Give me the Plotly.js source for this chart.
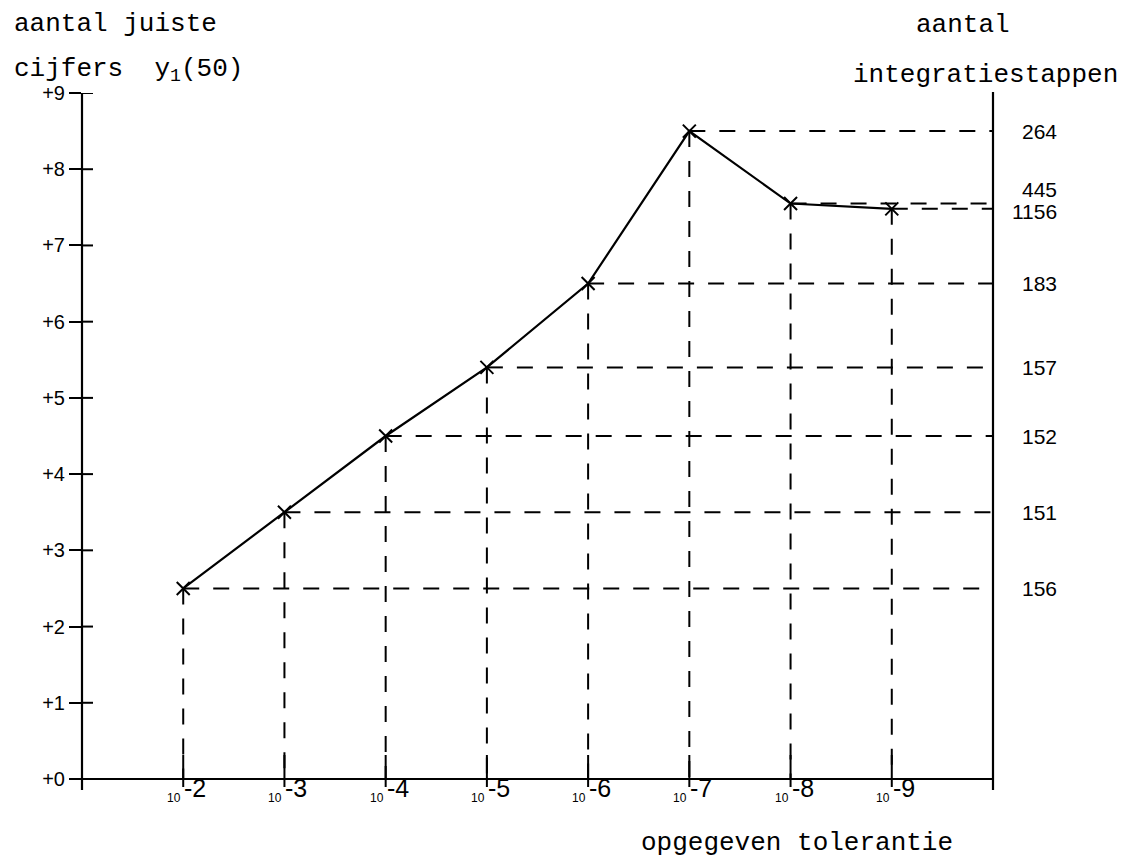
<!DOCTYPE html>
<html>
<head>
<meta charset="utf-8">
<script src="https://cdn.plot.ly/plotly-3.0.1.min.js"></script>
<style>html,body{margin:0;padding:0;background:#fff;}</style>
</head>
<body>
<div id="chart" style="width:1134px;height:858px;"></div>
<script>
// ---- data ----
const exponents = [-2, -3, -4, -5, -6, -7, -8, -9];          // tolerance = 10^exponent
const correctDigits = [2.5, 3.5, 4.5, 5.4, 6.5, 8.5, 7.55, 7.48]; // aantal juiste cijfers y1(50)
const stepCounts = ['156', '151', '152', '157', '183', '264', '445', '1156']; // aantal integratiestappen
const yTickVals = [0, 1, 2, 3, 4, 5, 6, 7, 8, 9];
const yTickText = ['+0', '+1', '+2', '+3', '+4', '+5', '+6', '+7', '+8', '+9'];
const xRange = [-1, -10];
const yRange = [0, 9];

// ---- geometry / style ----
const ML = 82, MR = 141, MT = 93, MB = 79;
const PW = 1134 - ML - MR, PH = 858 - MT - MB;
const px = v => v / PW, py = v => v / PH;
const INK = '#000';
const mono = 'Liberation Mono, Courier New, monospace';
const sans = 'Liberation Sans, Arial, sans-serif';
const labelNudge = {'445': 14, '1156': -3};

const traces = [];
const shapes = [];
const annotations = [];

// dashed guide lines
exponents.forEach((e, i) => {
  const v = correctDigits[i];
  traces.push({x: [e, xRange[1]], y: [v, v], mode: 'lines', hoverinfo: 'skip',
    line: {color: INK, width: 2, dash: '16px,14px'}, showlegend: false});
  traces.push({x: [e, e], y: [v, yRange[0]], mode: 'lines', hoverinfo: 'skip',
    line: {color: INK, width: 2, dash: '16px,14px'}, showlegend: false});
});

// main curve
traces.push({
  x: exponents, y: correctDigits, mode: 'lines+markers', showlegend: false,
  line: {color: INK, width: 2.2},
  marker: {symbol: 'x-thin', size: 13, line: {color: INK, width: 2}, color: INK}
});

// axes lines
shapes.push({type: 'line', xref: 'paper', yref: 'paper', x0: 0, x1: 0, y0: 1, y1: -py(11), line: {color: INK, width: 2.2}});
shapes.push({type: 'line', xref: 'paper', yref: 'paper', x0: -px(12), x1: 1, y0: 0, y1: 0, line: {color: INK, width: 2.2}});
shapes.push({type: 'line', xref: 'paper', yref: 'paper', x0: 1, x1: 1, y0: 1 + py(1), y1: -py(11), line: {color: INK, width: 2.2}});

// inner halves of y ticks
yTickVals.forEach(v => {
  shapes.push({type: 'line', xref: 'paper', yref: 'y', x0: 0, x1: px(11), y0: v, y1: v, line: {color: INK, width: 2}});
});
// x ticks crossing the axis
exponents.forEach(e => {
  shapes.push({type: 'line', xref: 'x', yref: 'paper', x0: e, x1: e, y0: -py(8), y1: py(24), line: {color: INK, width: 2}});
});

// x tick labels: small "10" and big exponent
exponents.forEach(e => {
  annotations.push({xref: 'x', yref: 'paper', x: e, y: -py(9), text: String(e),
    xanchor: 'left', yanchor: 'middle', showarrow: false,
    font: {family: sans, size: 25, color: INK}, borderpad: 0});
  annotations.push({xref: 'x', yref: 'paper', x: e, y: -py(19), text: '10',
    xanchor: 'right', yanchor: 'middle', showarrow: false, xshift: -1,
    font: {family: sans, size: 12, color: INK}, borderpad: 0});
});

// right-hand step counts
exponents.forEach((e, i) => {
  const t = stepCounts[i];
  annotations.push({xref: 'paper', yref: 'y', x: px(1058 - ML), y: correctDigits[i], text: t,
    xanchor: 'right', yanchor: 'middle', showarrow: false, yshift: labelNudge[t] || 0,
    font: {family: sans, size: 21, color: INK}, borderpad: 0});
});

// titles
const pText = (text, x, y, anchor) => annotations.push({xref: 'paper', yref: 'paper',
  x: px(x - ML), y: py(858 - MB - y), text: text, xanchor: anchor || 'left', yanchor: 'middle',
  showarrow: false, font: {family: mono, size: 26, color: INK}, borderpad: 0});
pText('aantal juiste', 13, 24);
pText('cijfers\u00A0\u00A0y<sub>1</sub>(50)', 13, 70);
pText('aantal', 915, 25);
pText('integratiestappen', 852, 75);
pText('opgegeven tolerantie', 640, 843);

const layout = {
  width: 1134, height: 858,
  margin: {l: ML, r: MR, t: MT, b: MB, pad: 0},
  paper_bgcolor: '#fff', plot_bgcolor: '#fff',
  showlegend: false,
  xaxis: {range: xRange, showgrid: false, zeroline: false, showline: false,
    showticklabels: false, ticks: ''},
  yaxis: {range: yRange, showgrid: false, zeroline: false, showline: false,
    tickmode: 'array', tickvals: yTickVals, ticktext: yTickText,
    ticks: 'outside', ticklen: 12, tickwidth: 2, tickcolor: INK,
    tickfont: {family: sans, size: 20, color: INK}},
  shapes: shapes,
  annotations: annotations
};

Plotly.newPlot('chart', traces, layout, {displayModeBar: false, staticPlot: true});
</script>
</body>
</html>
